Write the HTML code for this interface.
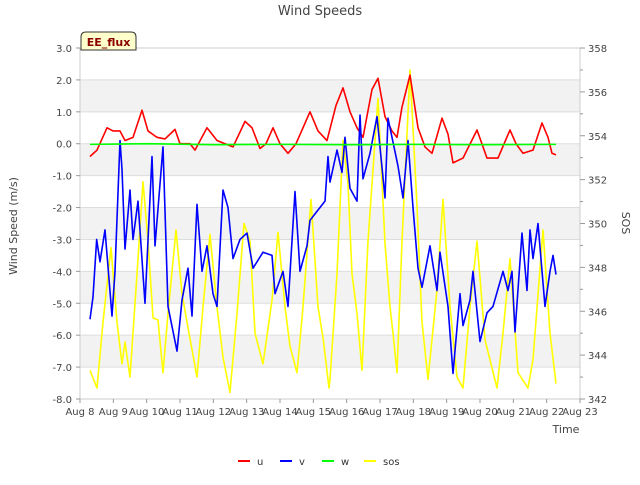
<!DOCTYPE html>
<html><head><meta charset="utf-8"><style>
body{margin:0;background:#fff;font-family:"Liberation Sans","DejaVu Sans",sans-serif}
svg text{font-family:"DejaVu Sans","Liberation Sans",sans-serif}
</style></head><body>
<svg id="chart" width="640" height="480" xmlns="http://www.w3.org/2000/svg">
<rect width="640" height="480" fill="#fff"/>
<g id="bands"></g><g id="grid"></g>
<rect x="80" y="48" width="500" height="351" fill="none" stroke="#ccc"/>
<g id="series"></g><g id="axes"></g>
<text x="320" y="15" text-anchor="middle" font-size="13" fill="#444">Wind Speeds</text>
<text transform="translate(17,226) rotate(-90)" text-anchor="middle" font-size="11" fill="#444">Wind Speed (m/s)</text>
<text transform="translate(622,223) rotate(90)" text-anchor="middle" font-size="11" fill="#444">SOS</text>
<text x="566" y="433" text-anchor="middle" font-size="11" fill="#444">Time</text>
<g>
<path d="M81,50 L81,37 Q81,32 86,32 L131,32 Q136,32 136,37 L136,50 Z" fill="#ffffcc" stroke="#333"/>
<text x="108.5" y="46" text-anchor="middle" font-size="11" font-weight="bold" fill="#8b0000">EE_flux</text>
</g>
<g id="legend"></g>
</svg>
<script>
const xTickLabels=["Aug 8","Aug 9","Aug 10","Aug 11","Aug 12","Aug 13","Aug 14","Aug 15","Aug 16","Aug 17","Aug 18","Aug 19","Aug 20","Aug 21","Aug 22","Aug 23"];
const yTicks=[3,2,1,0,-1,-2,-3,-4,-5,-6,-7,-8];
const y2Ticks=[342,344,346,348,350,352,354,356,358];
const uT=[0.3,0.51,0.81,0.99,1.2,1.35,1.59,1.86,2.04,2.31,2.55,2.85,3.0,3.3,3.45,3.81,4.11,4.35,4.59,4.95,5.16,5.4,5.58,5.79,6.0,6.24,6.48,6.9,7.14,7.41,7.68,7.89,8.1,8.31,8.49,8.76,8.94,9.15,9.36,9.51,9.66,9.9,10.14,10.35,10.56,10.86,11.04,11.19,11.49,11.91,12.21,12.54,12.9,13.08,13.29,13.59,13.86,14.04,14.16,14.28];
const uV=[-0.4,-0.2,0.5,0.4,0.4,0.1,0.2,1.05,0.4,0.2,0.15,0.45,0.0,0.0,-0.2,0.5,0.1,0.0,-0.1,0.7,0.5,-0.15,0.0,0.5,0.0,-0.3,0.0,1.0,0.4,0.1,1.2,1.75,1.0,0.5,0.2,1.7,2.05,0.85,0.4,0.2,1.15,2.15,0.5,-0.1,-0.3,0.8,0.3,-0.6,-0.45,0.43,-0.45,-0.45,0.43,0.0,-0.3,-0.2,0.65,0.2,-0.3,-0.35];
const vT=[0.30,0.39,0.5,0.6,0.75,0.96,1.05,1.2,1.26,1.35,1.5,1.59,1.74,1.95,2.16,2.25,2.49,2.64,2.91,3.06,3.24,3.36,3.51,3.66,3.81,3.99,4.11,4.29,4.44,4.59,4.8,5.01,5.19,5.49,5.76,5.85,6.09,6.24,6.45,6.6,6.81,6.9,7.05,7.35,7.44,7.5,7.71,7.86,7.95,8.1,8.31,8.4,8.49,8.7,8.91,9.15,9.24,9.54,9.69,9.84,9.99,10.14,10.26,10.5,10.71,10.8,11.04,11.19,11.4,11.49,11.7,11.79,12.0,12.21,12.39,12.69,12.84,12.96,13.05,13.26,13.41,13.5,13.59,13.74,13.95,14.1,14.19,14.28];
const vV=[-5.5,-4.8,-3.0,-3.7,-2.7,-5.4,-4.0,0.1,-0.8,-3.3,-1.45,-3.0,-1.8,-5.0,-0.4,-3.2,-0.1,-5.1,-6.5,-4.9,-3.9,-5.4,-1.9,-4.0,-3.2,-4.7,-5.1,-1.45,-2.0,-3.6,-3.0,-2.8,-3.9,-3.4,-3.5,-4.7,-4.0,-5.1,-1.5,-4.0,-3.2,-2.4,-2.2,-1.8,-0.4,-1.2,-0.2,-0.9,0.2,-1.4,-1.8,0.9,-1.1,-0.3,0.85,-1.7,0.8,-0.7,-1.7,0.1,-2.0,-3.9,-4.5,-3.2,-4.6,-3.4,-5.1,-7.2,-4.7,-5.7,-4.9,-4.0,-6.2,-5.3,-5.1,-4.0,-4.6,-4.0,-5.9,-2.8,-4.6,-2.7,-3.6,-2.5,-5.1,-4.0,-3.5,-4.1];
const wT=[0.3,2,4,6,8,10,12,14.28];
const wV=[-0.02,0.0,-0.03,-0.02,-0.03,-0.02,-0.03,-0.02];
const sT=[0.3,0.51,0.69,0.93,1.11,1.26,1.35,1.5,1.71,1.89,2.04,2.19,2.34,2.49,2.64,2.88,3.06,3.21,3.51,3.69,3.9,4.11,4.29,4.5,4.71,4.92,5.1,5.25,5.49,5.76,5.94,6.15,6.3,6.51,6.69,6.93,7.14,7.29,7.47,7.5,7.71,7.89,8.04,8.16,8.31,8.46,8.64,8.94,9.15,9.3,9.39,9.51,9.66,9.9,10.11,10.26,10.44,10.71,10.89,11.1,11.31,11.49,11.7,11.91,12.15,12.51,12.69,12.9,13.14,13.44,13.59,13.89,14.1,14.28];
const sV=[343.3,342.5,345.5,348.9,345.5,343.6,344.6,343.0,347.7,351.9,349.2,345.7,345.6,343.2,345.9,349.7,346.8,345.5,343.0,346.2,349.5,346.2,343.9,342.3,345.9,350.0,349.2,345.0,343.6,346.5,349.6,346.2,344.4,343.2,346.2,351.1,346.2,344.8,342.5,342.9,347.7,353.8,351.8,347.7,345.9,343.3,349.2,355.7,349.1,346.2,345.0,343.2,349.2,357.0,350.8,345.5,342.9,347.0,351.1,346.2,343.0,342.5,346.2,349.2,344.7,342.5,345.0,348.4,343.2,342.5,343.8,349.7,345.0,342.7];
const NS="http://www.w3.org/2000/svg";
const X=d=>80+d*500/15, Y=v=>48+(3-v)*351/11, Y2=v=>48+(358-v)*351/16;
function mk(t,a,p){const e=document.createElementNS(NS,t);for(const k in a)e.setAttribute(k,a[k]);p.appendChild(e);return e;}
const bands=document.getElementById('bands'),grid=document.getElementById('grid'),axes=document.getElementById('axes'),ser=document.getElementById('series'),leg=document.getElementById('legend');
for(let i=0;i<yTicks.length-1;i++){if(i%2===1){const b=mk('rect',{x:80,y:Y(yTicks[i]),width:500,height:Y(yTicks[i+1])-Y(yTicks[i]),fill:'#f2f2f2'},bands);

}}
yTicks.forEach(v=>{const l=mk('line',{x1:80,x2:580,y1:Y(v),y2:Y(v),stroke:'#ddd'},grid);


mk('line',{x1:76,x2:80,y1:Y(v),y2:Y(v),stroke:'#999'},axes);
const t=mk('text',{x:72,y:Y(v)+4,'text-anchor':'end','font-size':10,fill:'#444'},axes);t.textContent=v.toFixed(1);

});
for(let v=342;v<=358;v++){mk('line',{x1:580,x2:v%2?583:585,y1:Y2(v),y2:Y2(v),stroke:'#999'},axes);}
y2Ticks.forEach(v=>{const t=mk('text',{x:588,y:Y2(v)+4,'font-size':10,fill:'#444'},axes);t.textContent=v;

});
xTickLabels.forEach((s,i)=>{mk('line',{x1:X(i),x2:X(i),y1:399,y2:403,stroke:'#999'},axes);
const t=mk('text',{x:X(i),y:415,'text-anchor':'middle','font-size':10,fill:'#444'},axes);t.textContent=s;

});
function line(T,V,fy,col,name){const p=mk('polyline',{points:T.map((t,i)=>X(t)+','+fy(V[i])).join(' '),fill:'none',stroke:col,'stroke-width':1.6,'stroke-linejoin':'round'},ser);

}
line(sT,sV,Y2,'#ffff00','sos-line');
line(uT,uV,Y,'#ff0000','u-line');
line(vT,vV,Y,'#0000ff','v-line');
line(wT,wV,Y,'#00ff00','w-line');
[['u','#ff0000',238],['v','#0000ff',280],['w','#00ff00',322],['sos','#ffff00',364]].forEach(([n,c,x])=>{
const g=mk('g',{},leg);


mk('line',{x1:x,x2:x+12,y1:461,y2:461,stroke:c,'stroke-width':2},g);
const t=mk('text',{x:x+19,y:465,'font-size':10,fill:'#333'},g);t.textContent=n;});
</script>
</body></html>
